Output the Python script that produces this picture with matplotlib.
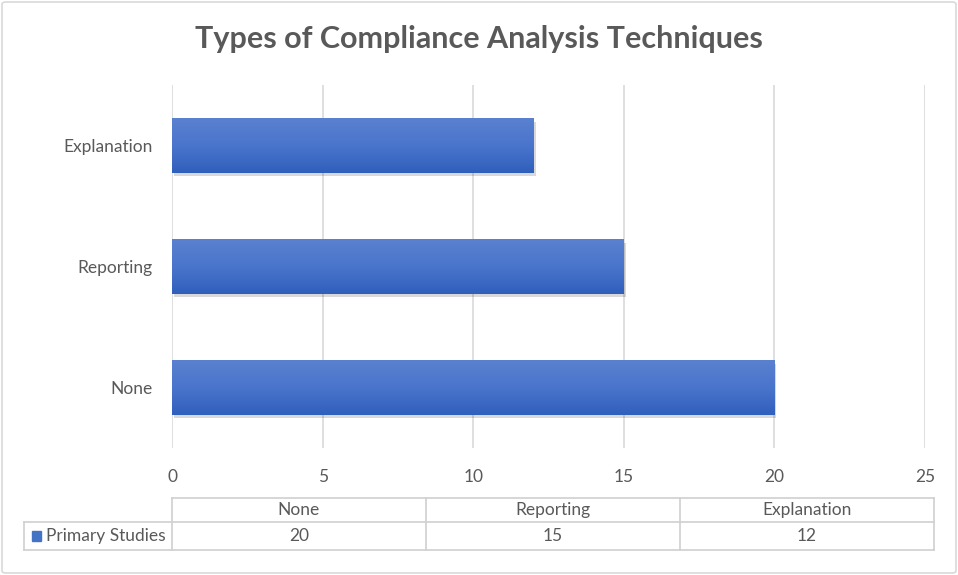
import numpy as np
import matplotlib.pyplot as plt
from matplotlib.patches import FancyBboxPatch, Rectangle
from matplotlib.colors import LinearSegmentedColormap
import matplotlib.patheffects as pe

# Data
categories = ["None", "Reporting", "Explanation"]
values = [20, 15, 12]
series_name = "Primary Studies"
title = "Types of Compliance Analysis Techniques"

plt.rcParams['font.family'] = ['Lato', 'DejaVu Sans']
txt_col = "#595959"
grid_col = "#d9d9d9"

W, H = 958, 575
fig = plt.figure(figsize=(W / 100, H / 100), dpi=100)

# outer frame
fig.patches.append(FancyBboxPatch((2 / W, 2 / H), (W - 4) / W, (H - 4) / H,
                                  boxstyle="round,pad=0,rounding_size=0.004",
                                  transform=fig.transFigure, fc="white",
                                  ec="#d9d9d9", lw=1.2, zorder=-10))

ax = fig.add_axes([172 / W, 127 / H, 753 / W, 363 / H])
y = np.arange(len(categories))
bars = ax.barh(y, values, height=0.45, color="#4472c4", zorder=3)

# gradient fill + soft shadow
grad = np.linspace(0, 1, 100).reshape(-1, 1)
cmap = LinearSegmentedColormap.from_list("g", ["#2f5fbc", "#4a75cc", "#5a81d0"])
for b in bars:
    b.set_path_effects([pe.SimplePatchShadow(offset=(1.5, -2.5), shadow_rgbFace="#000000", alpha=0.15),
                        pe.Normal()])
    x0, y0 = b.get_x(), b.get_y()
    w, h = b.get_width(), b.get_height()
    im = ax.imshow(grad, cmap=cmap, aspect="auto", extent=(x0, x0 + w, y0, y0 + h),
                   origin="lower", zorder=4)
    im.set_clip_path(b)

ax.set_xlim(0, 25)
ax.set_ylim(-0.5, len(categories) - 0.5)
ax.set_xticks(np.arange(0, 26, 5))
ax.set_yticks(y)
ax.set_yticklabels(categories)
ax.grid(axis="x", color=grid_col, lw=1.2, zorder=0)
ax.tick_params(length=0, labelsize=12.5, colors=txt_col)
ax.tick_params(axis="x", pad=15)
ax.tick_params(axis="y", pad=14)
for s in ax.spines.values():
    s.set_visible(False)

fig.text(479 / W, 1 - 39 / H, title, ha="center", va="center",
         fontsize=22, fontweight="bold", color=txt_col)

# data table
tab = fig.add_axes([0, 0, 1, 1], zorder=5)
tab.set_xlim(0, W)
tab.set_ylim(H, 0)
tab.axis("off")
x_left, x_right = 172, 934
lab_left = 24
y_top, y_mid, y_bot = 498, 522, 550
n = len(categories)
col_w = (x_right - x_left) / n
lc = "#d0d0d0"
tab.plot([x_left, x_right], [y_top, y_top], color=lc, lw=1.2)
tab.plot([lab_left, x_right], [y_mid, y_mid], color=lc, lw=1.2)
tab.plot([lab_left, x_right], [y_bot, y_bot], color=lc, lw=1.2)
tab.plot([lab_left, lab_left], [y_mid, y_bot], color=lc, lw=1.2)
for i in range(n + 1):
    tab.plot([x_left + i * col_w] * 2, [y_top, y_bot], color=lc, lw=1.2)
for i, (c, v) in enumerate(zip(categories, values)):
    cx = x_left + (i + 0.5) * col_w
    tab.text(cx, (y_top + y_mid) / 2, c, ha="center", va="center", fontsize=12.5, color=txt_col)
    tab.text(cx, (y_mid + y_bot) / 2, str(v), ha="center", va="center", fontsize=12.5, color=txt_col)
tab.add_patch(Rectangle((32, 531), 9, 10, color="#4472c4"))
tab.text(46, (y_mid + y_bot) / 2, series_name, ha="left", va="center", fontsize=12.5, color=txt_col)

fig.savefig("out.png", dpi=100)
